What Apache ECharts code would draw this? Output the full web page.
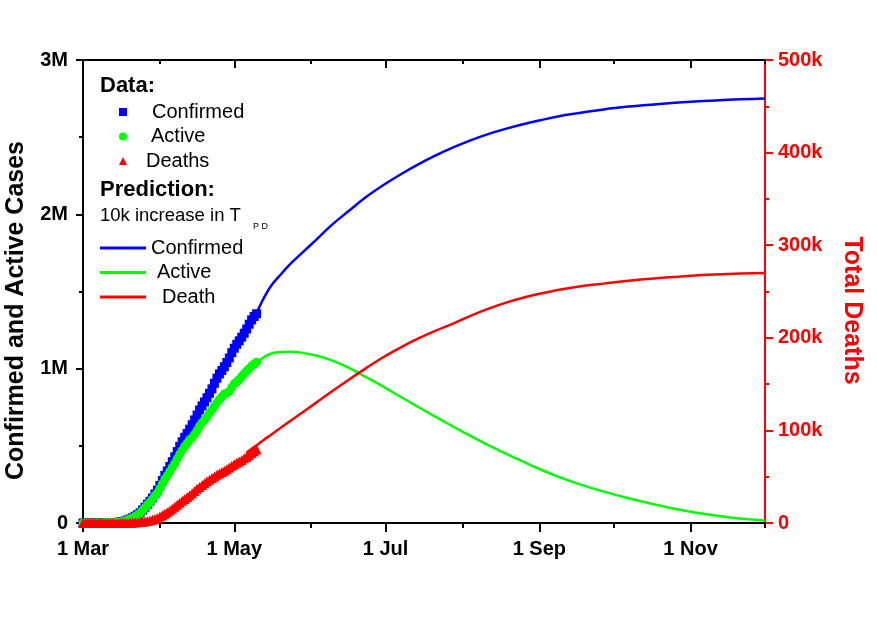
<!DOCTYPE html>
<html>
<head>
<meta charset="utf-8">
<title>Confirmed, Active and Deaths with prediction</title>
<script src="https://cdn.jsdelivr.net/npm/echarts@6/dist/echarts.min.js"></script>
<style>
  html, body { margin: 0; padding: 0; background: #fff; }
  #chart { width: 877px; height: 621px; }
</style>
</head>
<body>
<div id="chart"></div>
<script>
// day 0 = 1 Mar; reported data, one value per day (thousands)
const confirmedK = [0.1, 0.1, 0.2, 0.2, 0.3, 0.4, 0.5, 0.7, 1.0, 1.3,
  1.6, 2.2, 2.8, 3.6, 4.6, 6.3, 9.2, 13.8, 19.4, 25.6,
  33.3, 43.8, 53.7, 65.8, 83.8, 101.7, 121.5, 140.9, 161.8, 188.2,
  213.2, 243.6, 275.4, 308.7, 336.8, 366.3, 397.1, 428.7, 462.8, 496.5,
  526.4, 555.3, 580.6, 607.7, 636.4, 667.8, 699.7, 732.2, 758.8, 784.3,
  811.9, 840.4, 869.2, 905.4, 938.2, 965.8, 988.2, 1012.6, 1039.9, 1069.4,
  1103.5, 1132.5, 1158.0, 1180.4, 1204.4, 1229.3, 1257.0, 1288.0, 1316.0, 1338.0,
  1356.0];
const activeK = [0.1, 0.1, 0.2, 0.2, 0.3, 0.4, 0.5, 0.6, 0.9, 1.2,
  1.5, 2.1, 2.7, 3.5, 4.5, 6.2, 9.0, 13.6, 19.1, 25.2,
  32.8, 43.1, 52.7, 64.4, 82.0, 99.2, 118.2, 135.5, 153.7, 177.0,
  196.5, 223.4, 255.0, 285.0, 308.0, 334.0, 360.0, 387.0, 417.0, 446.0,
  471.0, 496.0, 517.0, 540.0, 552.0, 575.0, 600.0, 628.0, 650.0, 668.0,
  690.0, 712.0, 733.0, 757.0, 780.0, 800.0, 818.0, 836.0, 842.0, 853.0,
  880.0, 903.0, 915.0, 930.0, 950.0, 968.0, 985.0, 1000.0, 1018.0, 1030.0,
  1042.0];
const deathsK = [0, 0, 0, 0, 0, 0, 0, 0, 0, 0.03,
  0.04, 0.05, 0.06, 0.07, 0.1, 0.12, 0.15, 0.2, 0.26, 0.34,
  0.45, 0.6, 0.8, 1.0, 1.3, 1.7, 2.2, 2.7, 3.4, 4.3,
  5.5, 7.0, 8.5, 10.0, 11.7, 13.5, 15.5, 17.5, 19.8, 22.0,
  24.0, 26.0, 28.0, 30.0, 32.0, 34.5, 37.0, 39.0, 41.0, 43.0,
  45.0, 46.8, 48.5, 50.2, 52.0, 53.5, 55.0, 56.5, 58.0, 60.0,
  61.8, 63.5, 65.0, 66.5, 68.0, 69.8, 71.5, 73.5, 75.5, 77.5,
  79.5];

// prediction (10k increase in T_PD)
const predDays = [66, 70, 73, 76, 80, 84, 88, 94, 100, 107, 114, 121, 128, 135, 142, 149,
  156, 163, 170, 177, 184, 192, 200, 210, 220, 230, 240, 250, 260, 270, 275];
const predConfirmedK = [1257, 1365, 1460, 1540, 1615, 1685, 1745, 1835, 1927, 2020, 2110, 2188,
  2258, 2322, 2380, 2432, 2478, 2518, 2552, 2582, 2608, 2636, 2656, 2680, 2698, 2712, 2724,
  2734, 2742, 2748, 2750];
const predActiveK = [985, 1040, 1075, 1098, 1108, 1110, 1104, 1085, 1055, 1007, 946, 884,
  818, 753, 689, 627, 566, 508, 453, 401, 350, 297, 252, 203, 160, 122, 88, 60, 38, 22, 16];
const predDeathK = [76, 84, 90, 95.5, 103.5, 111, 118.5, 130, 141.5, 154.5, 167, 179, 189.5,
  199, 207.5, 215, 223.5, 231, 237.5, 243, 247.5, 252, 255.5, 258.5, 261.5, 264, 266, 267.8,
  269, 269.8, 270];

// x axis ticks (days since 1 Mar)
const majorTickDays = [0, 61, 122, 184, 245];
const majorTickLabels = ['1 Mar', '1 May', '1 Jul', '1 Sep', '1 Nov'];
const minorTickDays = [31, 92, 153, 214, 275];

const FONT = '"Liberation Sans", Arial, sans-serif';
const BLUE = '#0000ff';
const GREEN = '#00ff00';
const RED = '#ff0000';

const daily = (values) => values.map((v, i) => [i, v]);
const onPredDays = (values) => values.map((v, i) => [predDays[i], v]);

function xAxisPart(position, ticks, len, inside, withLine, withLabels) {
  return {
    type: 'value', position: position, min: 0, max: 275,
    axisLine: { show: withLine, onZero: false, lineStyle: { color: '#000', width: 2 } },
    axisTick: { show: true, inside: inside, length: len, customValues: ticks,
      lineStyle: { color: '#000', width: 2 } },
    axisLabel: withLabels ? {
      show: true, customValues: ticks, margin: 16,
      fontFamily: FONT, fontSize: 20, fontWeight: 'bold', color: '#000',
      formatter: (v) => majorTickLabels[majorTickDays.indexOf(v)] || ''
    } : { show: false },
    splitLine: { show: false }
  };
}

const chart = echarts.init(document.getElementById('chart'));

chart.setOption({
  animation: false,
  backgroundColor: '#fff',
  grid: { left: 83, right: 112, top: 60, bottom: 98, containLabel: false, outerBoundsMode: 'none' },
  xAxis: [
    xAxisPart('bottom', majorTickDays, 9, false, true, true),
    xAxisPart('bottom', minorTickDays, 5, false, false, false),
    xAxisPart('top', majorTickDays, 8, true, true, false),
    xAxisPart('top', minorTickDays, 4, true, false, false)
  ],
  yAxis: [
    {
      type: 'value', position: 'left', min: 0, max: 3000, interval: 1000,
      name: 'Confirmed and Active Cases', nameLocation: 'middle', nameGap: 54,
      nameTextStyle: { fontFamily: FONT, fontSize: 25, fontWeight: 'bold', color: '#000',
        padding: [0, 38, 0, 0] },
      axisLine: { show: true, onZero: false, lineStyle: { color: '#000', width: 2 } },
      axisTick: { show: true, length: 7, lineStyle: { color: '#000', width: 2 } },
      minorTick: { show: true, splitNumber: 2, length: 4, lineStyle: { color: '#000', width: 2 } },
      axisLabel: { fontFamily: FONT, fontSize: 20, fontWeight: 'bold', color: '#000', margin: 15,
        formatter: (v) => (v === 0 ? '0' : v / 1000 + 'M') },
      splitLine: { show: false }
    },
    {
      type: 'value', position: 'right', min: 0, max: 500, interval: 100,
      name: 'Total Deaths', nameLocation: 'middle', nameGap: 74, nameRotate: -90,
      nameTextStyle: { fontFamily: FONT, fontSize: 25, fontWeight: 'bold', color: RED,
        padding: [0, 0, 0, 38] },
      axisLine: { show: true, onZero: false, lineStyle: { color: RED, width: 2 } },
      axisTick: { show: true, length: 8, lineStyle: { color: RED, width: 2 } },
      minorTick: { show: true, splitNumber: 2, length: 4, lineStyle: { color: RED, width: 2 } },
      axisLabel: { fontFamily: FONT, fontSize: 20, fontWeight: 'bold', color: RED, margin: 13,
        formatter: (v) => (v === 0 ? '0' : v + 'k') },
      splitLine: { show: false }
    }
  ],
  legend: [
    {
      orient: 'vertical', left: 119, top: 102, padding: 0, itemGap: 4.5,
      itemWidth: 8, itemHeight: 8, selectedMode: false,
      textStyle: { fontFamily: FONT, fontSize: 20, color: '#000', lineHeight: 20 },
      data: [
        { name: 'Confirmed', icon: 'rect', textStyle: { padding: [0, 0, 0, 20] } },
        { name: 'Active', icon: 'circle', textStyle: { padding: [0, 0, 0, 19] } },
        { name: 'Deaths', icon: 'triangle', textStyle: { padding: [0, 0, 0, 14] } }
      ]
    },
    {
      orient: 'vertical', left: 100, top: 238, padding: 0, itemGap: 4.5,
      itemWidth: 46, itemHeight: 3, selectedMode: false,
      textStyle: { fontFamily: FONT, fontSize: 20, color: '#000', lineHeight: 20 },
      formatter: (name) => name.replace(' prediction', ''),
      data: [
        { name: 'Confirmed prediction', icon: 'rect' },
        { name: 'Active prediction', icon: 'rect', textStyle: { padding: [0, 0, 0, 6] } },
        { name: 'Death prediction', icon: 'rect', textStyle: { padding: [0, 0, 0, 11] } }
      ]
    }
  ],
  graphic: [
    { type: 'text', left: 100, top: 75,
      style: { text: 'Data:', fill: '#000', font: 'bold 22px ' + FONT } },
    { type: 'text', left: 100, top: 179,
      style: { text: 'Prediction:', fill: '#000', font: 'bold 22px ' + FONT } },
    { type: 'text', left: 100, top: 206,
      style: { text: '10k increase in T', fill: '#000', font: '18.5px ' + FONT } },
    { type: 'text', left: 253, top: 222,
      style: { text: 'P D', fill: '#000', font: '9px ' + FONT } }
  ],
  series: [
    { name: 'Confirmed', type: 'scatter', xAxisIndex: 0, yAxisIndex: 0, z: 3,
      symbol: 'rect', symbolSize: 9, itemStyle: { color: BLUE, opacity: 1 }, data: daily(confirmedK) },
    { name: 'Active', type: 'scatter', xAxisIndex: 0, yAxisIndex: 0, z: 3,
      symbol: 'circle', symbolSize: 9, itemStyle: { color: GREEN, opacity: 1 }, data: daily(activeK) },
    { name: 'Deaths', type: 'scatter', xAxisIndex: 0, yAxisIndex: 1, z: 3,
      symbol: 'triangle', symbolSize: 10, itemStyle: { color: RED, opacity: 1 }, data: daily(deathsK) },
    { name: 'Confirmed prediction', type: 'line', xAxisIndex: 0, yAxisIndex: 0, z: 2,
      showSymbol: false, smooth: 0.4, lineStyle: { color: BLUE, width: 2.5 },
      itemStyle: { color: BLUE }, data: onPredDays(predConfirmedK) },
    { name: 'Active prediction', type: 'line', xAxisIndex: 0, yAxisIndex: 0, z: 2,
      showSymbol: false, smooth: 0.4, lineStyle: { color: GREEN, width: 2.5 },
      itemStyle: { color: GREEN }, data: onPredDays(predActiveK) },
    { name: 'Death prediction', type: 'line', xAxisIndex: 0, yAxisIndex: 1, z: 2,
      showSymbol: false, smooth: 0.4, lineStyle: { color: RED, width: 2.5 },
      itemStyle: { color: RED }, data: onPredDays(predDeathK) }
  ]
});
</script>
</body>
</html>
